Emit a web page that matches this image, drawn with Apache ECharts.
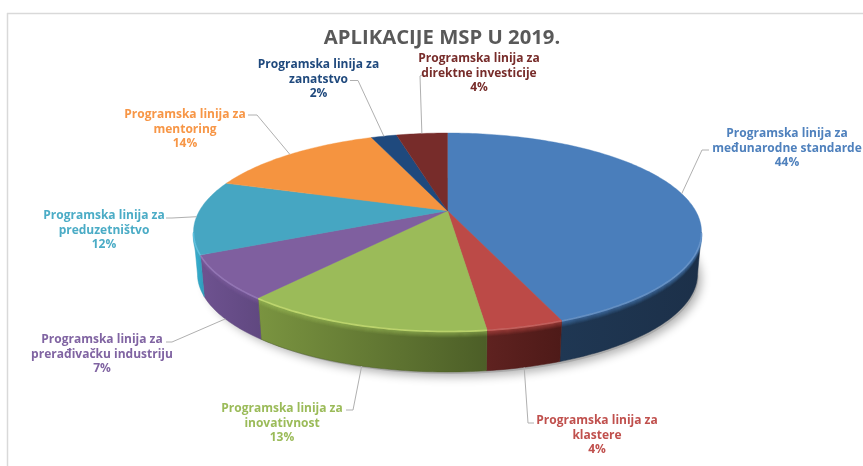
<!DOCTYPE html>
<html><head><meta charset="utf-8">
<style>html,body{margin:0;padding:0;background:#fff}#c{width:863px;height:466px}</style>
<script src="https://cdn.jsdelivr.net/npm/echarts@6/dist/echarts.min.js"></script>
</head><body><div id="c"></div>
<script>
const chartTitle = 'APLIKACIJE MSP U 2019.';
const categories = [
  ['Programska linija za', 'međunarodne standarde'],
  ['Programska linija za', 'klastere'],
  ['Programska linija za', 'inovativnost'],
  ['Programska linija za', 'prerađivačku industriju'],
  ['Programska linija za', 'preduzetništvo'],
  ['Programska linija za', 'mentoring'],
  ['Programska linija za', 'zanatstvo'],
  ['Programska linija za', 'direktne investicije']
];
const percents = [44, 4, 13, 7, 12, 14, 2, 4];

const faceColors = ['#4a7ebb', '#bc4a47', '#9bbb59', '#7f5f9f', '#46a6c2', '#f59440', '#1f497d', '#772c2a'];
const wallLeft   = ['#1f3753', '#5f2220', '#7a9440', '#6e5290', '#38b4d6', '#c0702c', '#163456', '#531d1c'];
const wallRight  = ['#1c3049', '#4e1a18', '#4c5e27', '#604880', '#2f9ab8', '#c0702c', '#163456', '#531d1c'];
const textColors = ['#4f81bd', '#c0504d', '#9bbb59', '#8064a2', '#4bacc6', '#f79646', '#1f497d', '#772c2a'];
const bevelColors = ['#6f9bd0', '#cf6a66', '#cbe276', '#9a7cbc', '#63c6e4', '#f59440', '#1f497d', '#772c2a'];

// Label block centres and line-ends of the leaders (layout only)
const labelCentres = [[787, 133.5], [597, 420.5], [282, 408.5], [102, 339.5], [104, 215.5], [185, 114.5], [318.5, 64.5], [479, 58.5]];
const leaderTail = [
  [[702, 150], [709, 150]],
  [[528, 423], [534, 423]],
  [[353, 410], [346, 410]],
  [[172, 342], [166, 342]],
  [[172, 218], [166, 218]],
  [[257, 115], [248, 115]],
  [[358, 80.5], [350, 80.5]],
  [[420, 76], [422, 75]]
];

// Perspective disc geometry
const cx = 447.5, cy = 232, rx = 254, ry = 99;
const depth = 42, rxB = 250, ryB = 98;
const k = 0.215; // how far the disc centre sits above the ellipse centre, as a share of ry

function unit(deg) {
  const t = deg * Math.PI / 180, u = Math.sin(t), v = -Math.cos(t), d = 1 - k * v;
  return [u * Math.sqrt(1 - k * k) / d, (v - k) / d];
}
function rim(deg) { const p = unit(deg); return [cx + rx * p[0], cy + ry * p[1]]; }
function base(deg) { const p = unit(deg); return [cx + rxB * p[0], cy + depth + ryB * p[1]]; }

const total = percents.reduce((a, b) => a + b, 0);
const startAngles = [];
percents.reduce((acc, p, i) => { startAngles[i] = acc / total * 360; return acc + p; }, 0);

function angleRange(i, api) {
  const a0 = startAngles[i];
  return [a0, a0 + api.value(0) / total * 360];
}
function samples(a0, a1) {
  const out = [];
  const n = Math.max(2, Math.ceil((a1 - a0) / 1));
  for (let j = 0; j <= n; j++) out.push(a0 + (a1 - a0) * j / n);
  return out;
}

function renderWall(params, api) {
  const i = params.dataIndex, r = angleRange(i, api);
  const front = samples(r[0], r[1]).filter(a => unit(a)[1] >= 0);
  if (front.length < 2) return { type: 'group', children: [] };
  const top = front.map(rim), bot = front.map(base).reverse();
  const children = [{
    type: 'polygon', shape: { points: top.concat(bot) },
    style: {
      fill: new echarts.graphic.LinearGradient(0, 0, 1, 0, [
        { offset: 0, color: wallLeft[i] }, { offset: 1, color: wallRight[i] }
      ]),
      stroke: wallRight[i], lineWidth: 0.5
    }
  }];
  // soft bevel just below the front rim
  for (let o = 1; o <= 6; o++) {
    children.push({
      type: 'polyline',
      shape: { points: top.map(p => [p[0], p[1] + o]) },
      style: { fill: 'none', stroke: faceColors[i], lineWidth: 1.4, opacity: 0.6 * (1 - o / 7) }
    });
  }
  return { type: 'group', children };
}

function renderFace(params, api) {
  const i = params.dataIndex, r = angleRange(i, api);
  const arc = samples(r[0], r[1]).map(rim);
  const apex = [cx, cy - k * ry];
  const children = [{
    type: 'polygon', shape: { points: [apex].concat(arc) },
    style: { fill: faceColors[i], stroke: faceColors[i], lineWidth: 0.4 }
  }];
  const front = samples(r[0], r[1]).filter(a => unit(a)[1] >= 0).map(rim);
  if (front.length > 1) {
    children.push({
      type: 'polyline', shape: { points: front.map(p => [p[0], p[1] + 0.5]) },
      style: { fill: 'none', stroke: bevelColors[i], lineWidth: 1.6, opacity: 0.8 }
    });
  }
  return { type: 'group', children };
}

function renderLabel(params, api) {
  const i = params.dataIndex, r = angleRange(i, api), mid = (r[0] + r[1]) / 2;
  let s = rim(mid);
  if (unit(mid)[1] >= 0.05) s = base(mid);
  const c = labelCentres[i], lh = 14.7;
  const lines = categories[i].concat([api.value(0) + '%']);
  const children = [{
    type: 'polyline', shape: { points: [s].concat(leaderTail[i]) },
    style: { fill: 'none', stroke: '#b0b0b0', lineWidth: 1 }
  }];
  lines.forEach((t, j) => children.push({
    type: 'text',
    style: {
      text: t, x: c[0], y: c[1] + j * lh, align: 'center', verticalAlign: 'middle',
      fill: textColors[i], font: 'bold 12px "Open Sans"'
    }
  }));
  return { type: 'group', children };
}

const seriesData = percents.map(p => [p]);
const chart = echarts.init(document.getElementById('c'));
chart.setOption({
  animation: false,
  backgroundColor: '#ffffff',
  title: {
    text: chartTitle, left: 437, top: 33, textAlign: 'center', textVerticalAlign: 'middle',
    textStyle: { color: '#595959', fontFamily: 'Open Sans', fontWeight: 'bold', fontSize: 20.3 }
  },
  graphic: [
    { type: 'line', shape: { x1: 7, y1: 13.5, x2: 863, y2: 13.5 }, style: { stroke: '#d9d9d9', lineWidth: 1.5 }, z: 0 },
    { type: 'line', shape: { x1: 7.5, y1: 13, x2: 7.5, y2: 466 }, style: { stroke: '#d9d9d9', lineWidth: 1.5 }, z: 0 },
    { type: 'ellipse', shape: { cx: cx + 3, cy: cy + depth + 2, rx: rxB - 2, ry: ryB }, z: 1,
      style: { fill: '#aaa', shadowBlur: 10, shadowColor: 'rgba(0,0,0,0.3)', shadowOffsetY: 3, shadowOffsetX: 3 } }
  ],
  series: [
    { type: 'custom', coordinateSystem: 'none', renderItem: renderWall, data: seriesData, z: 2, silent: true },
    { type: 'custom', coordinateSystem: 'none', renderItem: renderFace, data: seriesData, z: 3, silent: true },
    { type: 'custom', coordinateSystem: 'none', renderItem: renderLabel, data: seriesData, z: 4, silent: true }
  ]
});
</script></body></html>
